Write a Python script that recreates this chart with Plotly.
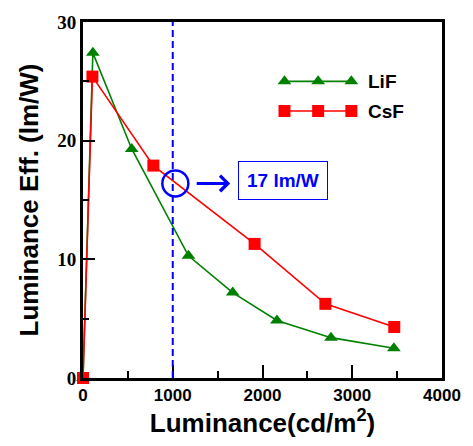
import plotly.graph_objects as go

# Data
lif_x = [0, 110, 543, 1175, 1668, 2161, 2763, 3464]
lif_y = [0, 27.4, 19.3, 10.3, 7.2, 4.85, 3.4, 2.5]
csf_x = [0, 105, 784, 1912, 2701, 3468]
csf_y = [0, 25.4, 17.9, 11.3, 6.25, 4.3]
ref_x = 1000
ref_y = 16.4
ref_label = "17 lm/W"
x_ticks = [0, 1000, 2000, 3000, 4000]
y_ticks = [0, 10, 20, 30]

GREEN = "#008000"
RED = "#ff0000"
BLUE = "#0000ff"

fig = go.Figure()
fig.add_trace(go.Scatter(x=lif_x, y=lif_y, mode="lines+markers", name="LiF",
                         line=dict(color=GREEN, width=1.6),
                         marker=dict(symbol="triangle-up", size=12, color=GREEN),
                         cliponaxis=False, showlegend=False))
fig.add_trace(go.Scatter(x=csf_x, y=csf_y, mode="lines+markers", name="CsF",
                         line=dict(color=RED, width=1.6),
                         marker=dict(symbol="square", size=12, color=RED),
                         cliponaxis=False, showlegend=False))

# manual legend samples (three markers per row like the original)
leg_x = [2245, 2620, 2990]
fig.add_trace(go.Scatter(x=leg_x, y=[25.0] * 3, mode="lines+markers",
                         line=dict(color=GREEN, width=1.6),
                         marker=dict(symbol="triangle-up", size=12, color=GREEN),
                         showlegend=False, hoverinfo="skip"))
fig.add_trace(go.Scatter(x=leg_x, y=[22.5] * 3, mode="lines+markers",
                         line=dict(color=RED, width=1.6),
                         marker=dict(symbol="square", size=12, color=RED),
                         showlegend=False, hoverinfo="skip"))
for txt, yy in [("LiF", 25.0), ("CsF", 22.5)]:
    fig.add_annotation(x=3150, y=yy, text=txt, showarrow=False, xanchor="left",
                       font=dict(family="Liberation Sans", size=19, color="black", weight="bold"))

# reference line, circle, arrow, box
fig.add_shape(type="line", x0=ref_x, x1=ref_x, y0=0, y1=30,
              line=dict(color=BLUE, width=2, dash="7px,4px"))
fig.add_shape(type="circle", xref="x", yref="y", xsizemode="pixel", ysizemode="pixel",
              xanchor=1029, yanchor=ref_y, x0=-13, x1=13, y0=-13, y1=13,
              line=dict(color=BLUE, width=2.5))
fig.add_annotation(x=1640, y=ref_y, ax=1250, ay=ref_y, axref="x", ayref="y",
                   text="", showarrow=True, arrowhead=4, arrowsize=1, arrowwidth=3,
                   arrowcolor=BLUE)
fig.add_annotation(x=2232, y=16.65, text=ref_label, showarrow=False,
                   font=dict(family="Liberation Sans", size=19, color=BLUE, weight="bold"),
                   bordercolor=BLUE, borderwidth=1, borderpad=8, bgcolor="white")

fig.update_xaxes(range=[0, 4000], tickvals=x_ticks, ticktext=[str(v) for v in x_ticks],
                 ticks="inside", ticklen=13, tickwidth=2, tickcolor="black",
                 minor=dict(ticks="inside", dtick=500, ticklen=7, tickwidth=2, tickcolor="black"),
                 showline=True, linewidth=3, linecolor="black", mirror=True,
                 showgrid=False, zeroline=False,
                 tickfont=dict(family="Liberation Sans", size=17, color="black", weight="bold"),
                 title=dict(text="Luminance(cd/m<sup>2</sup>)", standoff=7,
                            font=dict(family="Liberation Sans", size=26, color="black", weight="bold")))
fig.update_yaxes(range=[0, 30], tickvals=y_ticks, ticktext=[str(v) for v in y_ticks],
                 ticks="inside", ticklen=12, tickwidth=2, tickcolor="black",
                 minor=dict(ticks="inside", dtick=5, ticklen=6, tickwidth=2, tickcolor="black"),
                 showline=True, linewidth=3, linecolor="black", mirror=True,
                 showgrid=False, zeroline=False,
                 tickfont=dict(family="Liberation Serif", size=19, color="black", weight="bold"),
                 title=dict(text="Luminance Eff. (lm/W)", standoff=12,
                            font=dict(family="Liberation Sans", size=26, color="black", weight="bold")))

fig.update_layout(width=473, height=446, margin=dict(l=83, r=26, t=18, b=68),
                  plot_bgcolor="white", paper_bgcolor="white", showlegend=False)

fig.write_html("out.html")
